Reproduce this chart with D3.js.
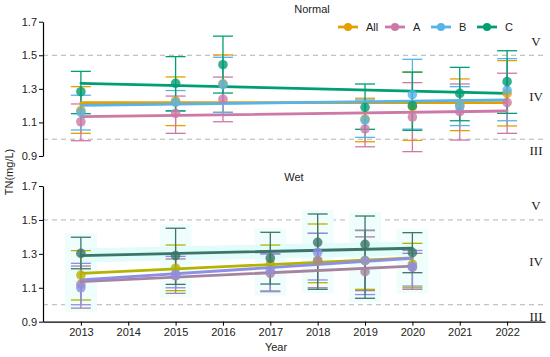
<!DOCTYPE html>
<html><head><meta charset="utf-8">
<script src="https://cdn.jsdelivr.net/npm/d3@7"></script>
<style>body{margin:0;background:#fff}text{font-family:"Liberation Sans",Arial,sans-serif}</style>
</head><body><svg id="c" width="550" height="357"></svg>
<script>
const seriesNames = ["All","A","B","C"];
const normalColors = ["#E69F00","#CC79A7","#56B4E9","#009E73"];
const wetColors = ["#b5b300","#a6849f","#8e8ee6","#3b7669"];
const yTicks = [0.9,1.1,1.3,1.5,1.7];
const xTicks = [2013,2014,2015,2016,2017,2018,2019,2020,2021,2022];

// Normal period
const normalYears = [2013,2015,2016,2019,2020,2021,2022];
const normalMean = {
  All:[1.17,1.228,1.33,1.12,1.194,1.20,1.273],
  A:[1.104,1.154,1.238,1.061,1.132,1.164,1.218],
  B:[1.16,1.22,1.325,1.114,1.266,1.198,1.293],
  C:[1.283,1.333,1.444,1.19,1.20,1.273,1.343]
};
const normalLow = {
  All:[1.035,1.081,1.16,0.985,0.993,1.051,1.079],
  A:[0.991,1.035,1.104,0.955,0.926,0.995,1.035],
  B:[1.055,1.17,1.16,1.011,1.06,1.081,1.110],
  C:[1.152,1.168,1.275,1.059,1.053,1.110,1.154]
};
const normalHigh = {
  All:[1.313,1.371,1.502,1.244,1.399,1.359,1.468],
  A:[1.21,1.257,1.370,1.22,1.337,1.329,1.393],
  B:[1.262,1.29,1.488,1.234,1.476,1.313,1.48],
  C:[1.404,1.492,1.614,1.329,1.40,1.428,1.527]
};
const normalTrend = {All:[1.218,1.218],A:[1.134,1.168],B:[1.202,1.234],C:[1.333,1.273]};
const normalTrendYears = [2013,2022];

// Wet period
const wetYears = [2013,2015,2017,2018,2019,2020];
const wetMean = {
  All:[1.175,1.215,1.24,1.26,1.26,1.24],
  A:[1.12,1.17,1.185,1.26,1.195,1.22],
  B:[1.10,1.18,1.205,1.309,1.26,1.225],
  C:[1.303,1.29,1.274,1.368,1.356,1.307]
};
const wetLow = {
  All:[1.028,1.083,1.08,1.13,1.091,1.10],
  A:[0.98,1.067,1.08,1.10,1.083,1.091],
  B:[1.00,1.10,1.077,1.146,1.06,1.11],
  C:[1.212,1.12,1.122,1.091,1.038,1.189]
};
const wetHigh = {
  All:[1.319,1.352,1.352,1.476,1.437,1.362],
  A:[1.228,1.27,1.30,1.421,1.40,1.303],
  B:[1.244,1.285,1.30,1.421,1.44,1.32],
  C:[1.398,1.451,1.427,1.535,1.523,1.425]
};
const wetTrend = {All:[1.185,1.276],A:[1.136,1.228],B:[1.146,1.274],C:[1.290,1.333]};
const wetTrendYears = [2013,2020];

const svg = d3.select("#c");
const x = d3.scaleLinear().domain([2012.2,2022.8]).range([43,545]);

function panel(opt){
  const y = d3.scaleLinear().domain([0.9,1.7]).range([opt.y0,opt.y1]);
  const g = svg.append("g");
  [1.5,1.0].forEach(v=>{
    g.append("line").attr("x1",43).attr("x2",545).attr("y1",y(v)).attr("y2",y(v))
     .attr("stroke","#b3b3b3").attr("stroke-width",1).attr("stroke-dasharray","5,4");
  });
  const cls = [["V",1.58],["IV",1.25],["III",0.93]];
  cls.forEach(c=>{
    g.append("text").attr("x",536).attr("y",y(c[1])+4).attr("text-anchor","middle")
     .style("font-family","'Liberation Serif','Times New Roman',serif").style("font-size","13px")
     .attr("fill","#222").text(c[0]);
  });
  if(opt.glow){
    opt.years.forEach((yr,i)=>{
      const lo = d3.min(seriesNames,s=>opt.low[s][i]), hi = d3.max(seriesNames,s=>opt.high[s][i]);
      g.append("rect").attr("x",x(yr)-16).attr("width",32).attr("y",y(hi)-4).attr("height",y(lo)-y(hi)+8)
       .attr("fill","#f0fdfd");
    });
    g.append("line").attr("x1",x(opt.trendYears[0])).attr("x2",x(opt.trendYears[1]))
     .attr("y1",y(opt.trend.C[0])).attr("y2",y(opt.trend.C[1]))
     .attr("stroke","#e2fbfb").attr("stroke-width",14);
  }
  const ax = d3.axisLeft(y).tickValues(yTicks).tickFormat(d3.format(".1f")).tickSize(4).tickSizeOuter(0);
  const ga = g.append("g").attr("transform","translate(43,0)").call(ax);
  ga.select(".domain").attr("stroke","#000").attr("stroke-width",1.2);
  ga.selectAll(".tick line").attr("stroke","#000");
  ga.selectAll("text").style("font-size","11px").attr("fill","#222").attr("x",-6);
  g.append("text").attr("x",opt.tx).attr("y",opt.ty).attr("text-anchor","middle")
   .style("font-size","11px").attr("fill","#222").text(opt.title);

  seriesNames.forEach((s,k)=>{
    const col = opt.colors[k];
    const sg = g.append("g");
    opt.years.forEach((yr,i)=>{
      const cx = x(yr), lo=y(opt.low[s][i]), hi=y(opt.high[s][i]);
      sg.append("line").attr("x1",cx).attr("x2",cx).attr("y1",lo).attr("y2",hi).attr("stroke",col).attr("stroke-width",1.3);
      [lo,hi].forEach(v=>sg.append("line").attr("x1",cx-10).attr("x2",cx+10).attr("y1",v).attr("y2",v)
        .attr("stroke",col).attr("stroke-width",1.3));
    });
  });
  seriesNames.forEach((s,k)=>{
    const col = opt.colors[k];
    g.append("line").attr("x1",x(opt.trendYears[0])).attr("x2",x(opt.trendYears[1]))
     .attr("y1",y(opt.trend[s][0])).attr("y2",y(opt.trend[s][1]))
     .attr("stroke",col).attr("stroke-width",2.8).attr("stroke-linecap","round");
  });
  seriesNames.forEach((s,k)=>{
    const col = opt.colors[k];
    opt.years.forEach((yr,i)=>{
      g.append("circle").attr("cx",x(yr)).attr("cy",y(opt.mean[s][i])).attr("r",4.8)
       .attr("fill",col).attr("opacity",0.8);
    });
  });
  return y;
}

panel({y0:156,y1:21.7,years:normalYears,mean:normalMean,low:normalLow,high:normalHigh,
  trend:normalTrend,trendYears:normalTrendYears,colors:normalColors,title:"Normal",tx:312,ty:13,glow:false});
panel({y0:321.7,y1:186,years:wetYears,mean:wetMean,low:wetLow,high:wetHigh,
  trend:wetTrend,trendYears:wetTrendYears,colors:wetColors,title:"Wet",tx:294,ty:181,glow:true});

const xa = d3.axisBottom(x).tickValues(xTicks).tickFormat(d3.format("d")).tickSize(4).tickSizeOuter(0);
const gx = svg.append("g").attr("transform","translate(0,321.7)").call(xa);
gx.select(".domain").attr("stroke","#000").attr("stroke-width",1.2);
gx.selectAll("text").style("font-size","11px").attr("fill","#222");

svg.append("text").attr("x",276).attr("y",351).attr("text-anchor","middle").style("font-size","11px").attr("fill","#222").text("Year");
svg.append("text").attr("transform","translate(13,172) rotate(-90)").attr("text-anchor","middle")
  .style("font-size","11px").attr("fill","#222").text("TN(mg/L)");

const legX = [338,385,431,477];
const lg = svg.append("g");
seriesNames.forEach((s,k)=>{
  const lx = legX[k];
  lg.append("line").attr("x1",lx).attr("x2",lx+20).attr("y1",27).attr("y2",27).attr("stroke",normalColors[k]).attr("stroke-width",2.8);
  lg.append("circle").attr("cx",lx+10).attr("cy",27).attr("r",4).attr("fill",normalColors[k]);
  lg.append("text").attr("x",lx+28).attr("y",31).style("font-size","11px").attr("fill","#222").text(s);
});
</script></body></html>
